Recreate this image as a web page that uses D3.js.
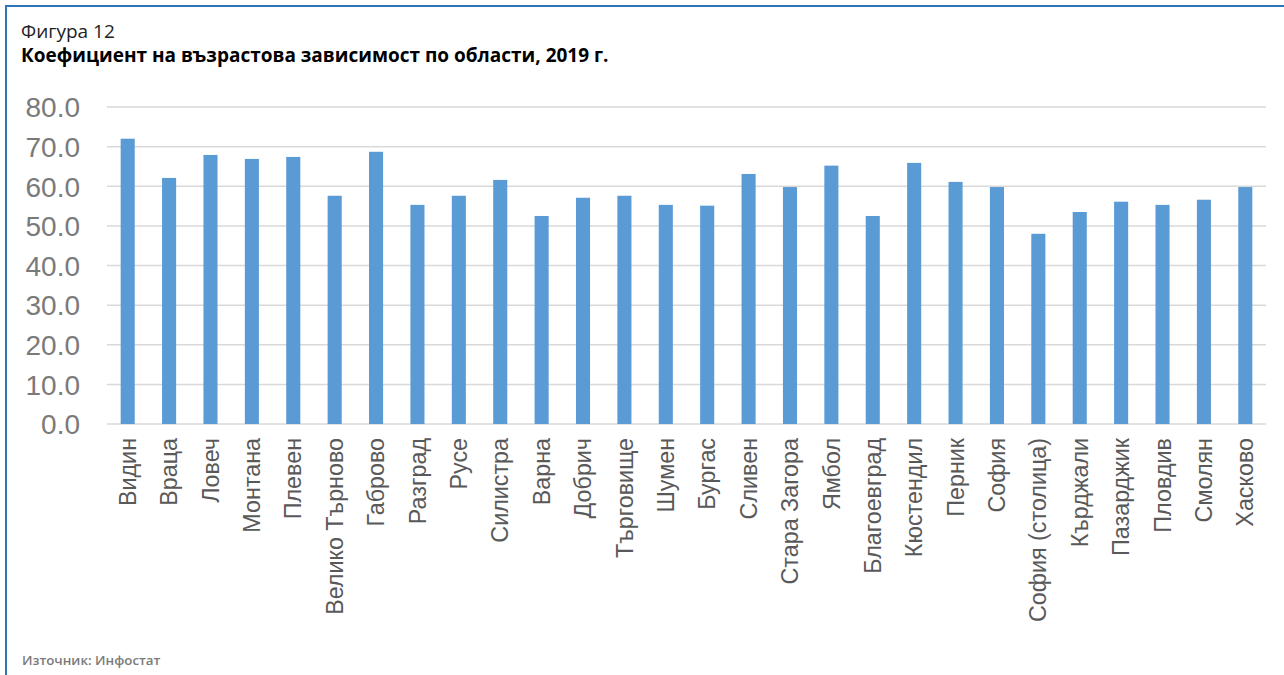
<!DOCTYPE html>
<html><head><meta charset="utf-8">
<script src="https://cdn.jsdelivr.net/npm/d3@7"></script>
<style>html,body{margin:0;padding:0;background:#fff;}svg{display:block;}</style>
</head><body>
<script>
const categories = ["Видин","Враца","Ловеч","Монтана","Плевен","Велико Търново","Габрово","Разград","Русе","Силистра","Варна","Добрич","Търговище","Шумен","Бургас","Сливен","Стара Загора","Ямбол","Благоевград","Кюстендил","Перник","София","София (столица)","Кърджали","Пазарджик","Пловдив","Смолян","Хасково"];
const values = [72.0,62.1,67.9,66.9,67.4,57.6,68.7,55.3,57.6,61.6,52.5,57.1,57.6,55.3,55.1,63.1,59.8,65.2,52.5,65.9,61.1,59.8,48.0,53.5,56.1,55.3,56.6,59.8];
const yTicks = [0,10,20,30,40,50,60,70,80];
const figLabel = "Фигура 12";
const title = "Коефициент на възрастова зависимост по области, 2019 г.";
const source = "Източник: Инфостат";

const W = 1284, H = 675;
const svg = d3.select("body").append("svg").attr("width", W).attr("height", H);
svg.append("rect").attr("width", W).attr("height", H).attr("fill", "#fff");
// frame
svg.append("line").attr("x1",6).attr("x2",W).attr("y1",6).attr("y2",6).attr("stroke","#2e75b6").attr("stroke-width",2);
svg.append("line").attr("x1",6).attr("x2",6).attr("y1",5).attr("y2",H).attr("stroke","#2e75b6").attr("stroke-width",2);

svg.append("text").attr("x",21).attr("y",38).attr("font-family","'Open Sans', sans-serif").attr("font-size",19).attr("fill","#222").text(figLabel);
svg.append("text").attr("x",21).attr("y",62).attr("font-family","'Open Sans', sans-serif").attr("font-weight","bold").attr("font-size",19).attr("fill","#000").text(title);
svg.append("text").attr("x",22).attr("y",665).attr("font-family","'Open Sans', sans-serif").attr("font-weight","600").attr("font-size",13.3).attr("fill","#7a7a7a").text(source);

const x = d3.scaleBand().domain(categories).range([107,1266]).paddingInner(0.66).paddingOuter(0.33);
const y = d3.scaleLinear().domain([0,80]).range([424,107]);

// grid
svg.append("g").selectAll("line").data(yTicks).join("line")
  .attr("x1",107).attr("x2",1266).attr("y1",d=>y(d)).attr("y2",d=>y(d))
  .attr("stroke","#d9d9d9").attr("stroke-width",1.5);

// y axis labels
const yAxis = d3.axisLeft(y).tickValues(yTicks).tickFormat(d3.format(".1f")).tickSize(0).tickPadding(0);
const gy = svg.append("g").attr("transform","translate(80,0)").call(yAxis);
gy.select(".domain").remove();
gy.selectAll("text").attr("font-family","'Liberation Sans', Arial, sans-serif").attr("font-size",28).attr("fill","#7a7a7a").attr("dy","0.35em");

// bars
svg.append("g").selectAll("rect").data(values).join("rect")
  .attr("x",(d,i)=>x(categories[i])).attr("width",x.bandwidth())
  .attr("y",d=>y(d)).attr("height",d=>y(0)-y(d)).attr("fill","#5b9bd5");

// x axis labels
const xAxis = d3.axisBottom(x).tickSize(0).tickPadding(0);
const gx = svg.append("g").attr("transform","translate(0,424)").call(xAxis);
gx.select(".domain").remove();
gx.selectAll("text")
  .attr("font-family","'Liberation Sans', Arial, sans-serif").attr("font-size",23.3).attr("fill","#595959")
  .attr("transform","rotate(-90)").attr("text-anchor","end")
  .attr("x",-14).attr("y",0).attr("dy","0.35em");
</script>
</body></html>
